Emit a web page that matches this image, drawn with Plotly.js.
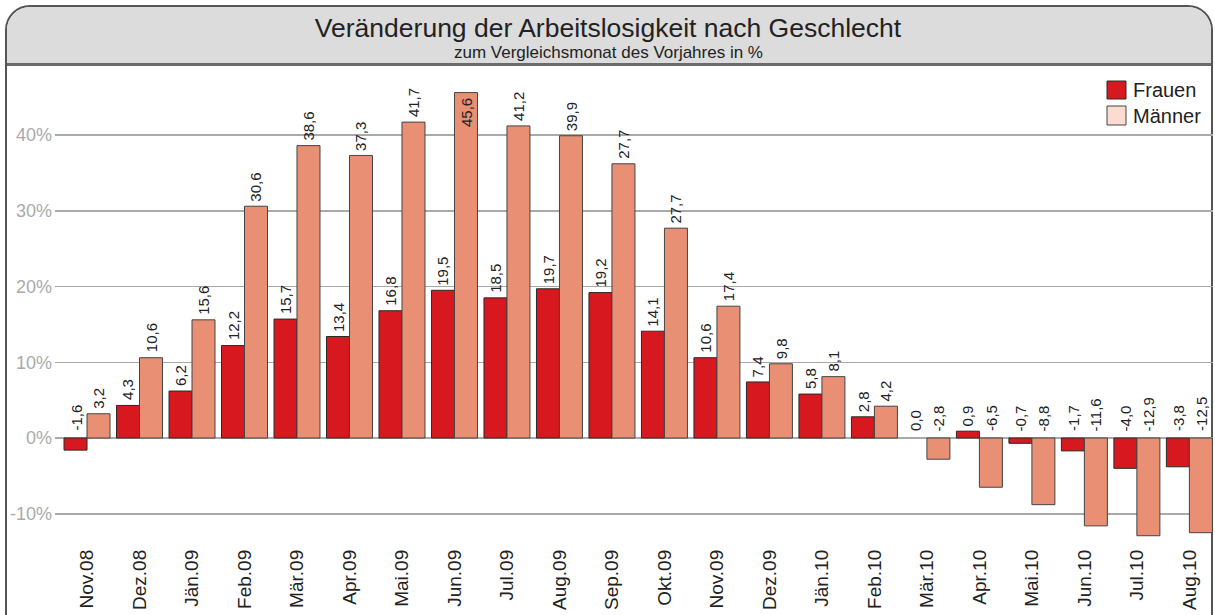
<!DOCTYPE html>
<html>
<head>
<meta charset="utf-8">
<script src="https://cdn.plot.ly/plotly-3.0.1.min.js"></script>
<style>
  body { margin:0; background:#fff; }
  #frame { position:absolute; left:5px; top:5px; width:1204px; height:640px; border:2px solid #555; border-radius:25px 25px 0 0; box-sizing:content-box; }
  #hdr { position:absolute; left:7px; top:7px; width:1204px; height:56px; background:#dcdcdc; border-radius:23px 23px 0 0; border-bottom:3px solid #6a6a6a; }
  #chart { position:absolute; left:0; top:0; width:1215px; height:615px; }
</style>
</head>
<body>
<div id="frame"></div>
<div id="hdr"></div>
<div id="chart"></div>
<script>
const categories = ["Nov.08","Dez.08","Jän.09","Feb.09","Mär.09","Apr.09","Mai.09","Jun.09","Jul.09","Aug.09","Sep.09","Okt.09","Nov.09","Dez.09","Jän.10","Feb.10","Mär.10","Apr.10","Mai.10","Jun.10","Jul.10","Aug.10"];
const frauen = [-1.6, 4.3, 6.2, 12.2, 15.7, 13.4, 16.8, 19.5, 18.5, 19.7, 19.2, 14.1, 10.6, 7.4, 5.8, 2.8, 0.0, 0.9, -0.7, -1.7, -4.0, -3.8];
const maenner = [3.2, 10.6, 15.6, 30.6, 38.6, 37.3, 41.7, 45.6, 41.2, 39.9, 36.2, 27.7, 17.4, 9.8, 8.1, 4.2, -2.8, -6.5, -8.8, -11.6, -12.9, -12.5];
const frauenLabels = ["-1,6","4,3","6,2","12,2","15,7","13,4","16,8","19,5","18,5","19,7","19,2","14,1","10,6","7,4","5,8","2,8","0,0","0,9","-0,7","-1,7","-4,0","-3,8"];
const maennerLabels = ["3,2","10,6","15,6","30,6","38,6","37,3","41,7","45,6","41,2","39,9","27,7","27,7","17,4","9,8","8,1","4,2","-2,8","-6,5","-8,8","-11,6","-12,9","-12,5"];
const seriesNames = ["Frauen", "Männer"];
const yTicks = [-10, 0, 10, 20, 30, 40];
const yTickText = ["-10%", "0%", "10%", "20%", "30%", "40%"];

const FONT = "Liberation Sans, Arial, sans-serif";
const W = 1215, H = 615;
const M = {l:55, r:2, t:70, b:73};
const PW = W - M.l - M.r, PH = H - M.t - M.b;
const px = x => (x - M.l) / PW;
const py = y => (H - M.b - y) / PH;
const SCALE = 7.575; // px per %
const ZERO_Y = 438;

const cF = "#d7181f", cM = "#e98f74", cMleg = "#fbdcd0";

const traces = [
  {type:"bar", name:seriesNames[0], x:categories, y:frauen,
   marker:{color:cF, line:{color:"#2a2a2a", width:frauen.map(v => v === 0 ? 0 : 1)}}, hoverinfo:"x+y"},
  {type:"bar", name:seriesNames[1], x:categories, y:maenner,
   marker:{color:cM, line:{color:"#444", width:maenner.map(v => v === 0 ? 0 : 1)}}, hoverinfo:"x+y"}
];

const ann = [];
function addLabels(vals, labels, shift) {
  vals.forEach((v, i) => {
    const inside = v > 44;
    ann.push({
      x: categories[i], y: v > 0 ? v : 0, xref:"x", yref:"y",
      text: labels[i], showarrow:false, textangle:-90,
      xanchor:"center", yanchor: inside ? "top" : "bottom",
      xshift: shift, yshift: inside ? -3 : (v > 0 ? 3 : 5),
      font:{family:FONT, size:15, color:"#222"}
    });
  });
}
const barHalf = PW / 22.06 * 0.876 / 4;
addLabels(frauen, frauenLabels, -barHalf);
addLabels(maenner, maennerLabels, barHalf);

// subtitle
ann.push({xref:"paper", yref:"paper", x:px(608), y:py(52), xanchor:"center", yanchor:"middle",
  text:"zum Vergleichsmonat des Vorjahres in %", showarrow:false,
  font:{family:"Liberation Sans Narrow, " + FONT, size:17, color:"#222"}});
// legend
const legRows = [{name:seriesNames[0], color:cF, line:"#2a2a2a", top:81, bot:99},
                 {name:seriesNames[1], color:cMleg, line:"#444", top:106, bot:125}];
const shapes = [];
legRows.forEach(r => {
  shapes.push({type:"rect", xref:"paper", yref:"paper", x0:px(1107), x1:px(1126), y0:py(r.bot), y1:py(r.top),
    fillcolor:r.color, line:{color:r.line, width:1}});
  ann.push({xref:"paper", yref:"paper", x:px(1131), y:py((r.top + r.bot)/2), xanchor:"left", yanchor:"middle",
    text:r.name, showarrow:false, font:{family:FONT, size:20, color:"#222"}});
});

const layout = {
  width:W, height:H,
  margin:M,
  paper_bgcolor:"rgba(0,0,0,0)", plot_bgcolor:"rgba(0,0,0,0)",
  showlegend:false,
  barmode:"group", bargap:0.124, bargroupgap:0,
  title:{text:"Veränderung der Arbeitslosigkeit nach Geschlecht", x:608/W, xanchor:"center",
    xref:"container", y:1 - 28/H, yref:"container", yanchor:"middle",
    font:{family:FONT, size:26.5, color:"#222"}},
  xaxis:{type:"category", range:[-0.61, 21.45], showgrid:false, zeroline:false, showline:false,
    ticks:"", tickangle:-90, tickfont:{family:FONT, size:19, color:"#222"}, ticklabelstandoff:3, fixedrange:true},
  yaxis:{range:[(ZERO_Y - (H - M.b))/SCALE, (ZERO_Y - M.t)/SCALE], tickvals:yTicks, ticktext:yTickText,
    showgrid:true, gridcolor:"#a9a9a9", gridwidth:1.5, zeroline:true, zerolinecolor:"#a9a9a9", zerolinewidth:1.5,
    showline:false, ticks:"", tickfont:{family:FONT, size:18, color:"#aaaaaa"}, ticklabelstandoff:2, fixedrange:true},
  annotations:ann, shapes:shapes
};

Plotly.newPlot("chart", traces, layout, {displayModeBar:false, staticPlot:true});
</script>
</body>
</html>
